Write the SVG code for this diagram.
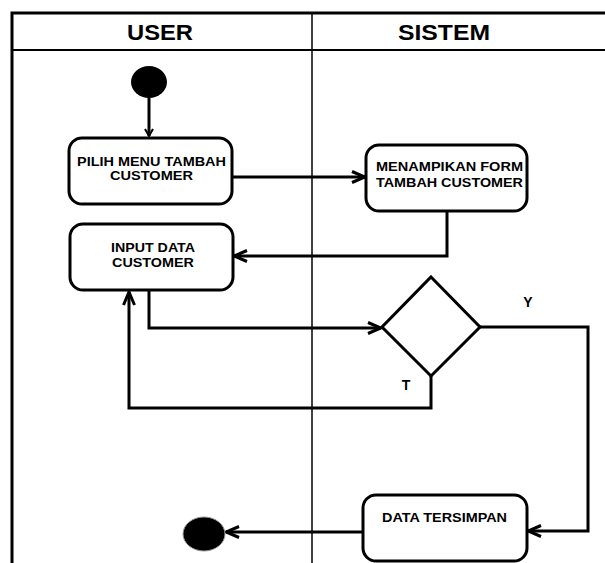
<svg xmlns="http://www.w3.org/2000/svg" width="605" height="563" viewBox="0 0 605 563">
  <defs>
    <style>
      .lane { fill: none; stroke: #000; }
      .act { fill: #fff; stroke: #000; stroke-width: 3; }
      .wire { fill: none; stroke: #000; stroke-width: 3; stroke-linejoin: miter; }
      .hdr { font-family: "Liberation Sans", Arial, sans-serif; font-weight: bold; font-size: 22px; text-anchor: middle; fill: #000; }
      .lbl { font-family: "Liberation Sans", Arial, sans-serif; font-weight: bold; font-size: 12.5px; text-anchor: middle; fill: #000; }
      .guard { font-family: "Liberation Sans", Arial, sans-serif; font-weight: bold; font-size: 14px; text-anchor: middle; fill: #000; }
    </style>
    <marker id="arrow" markerUnits="userSpaceOnUse" markerWidth="18" markerHeight="14" refX="15" refY="7" orient="auto">
      <path d="M2,1.5 L15,7 L2,12.5" fill="none" stroke="#000" stroke-width="3"/>
    </marker>
    <marker id="arrowSmall" markerUnits="userSpaceOnUse" markerWidth="12" markerHeight="10" refX="9" refY="5" orient="auto">
      <path d="M2,1 L9,5 L2,9" fill="none" stroke="#000" stroke-width="2"/>
    </marker>
  </defs>

  <!-- swimlane frame -->
  <g id="swimlanes">
    <rect class="lane" x="12" y="13" width="610" height="560" stroke-width="3"/>
    <line class="lane" x1="12" y1="50" x2="605" y2="50" stroke-width="2"/>
    <line class="lane" x1="312" y1="13" x2="312" y2="563" stroke-width="1.5"/>
    <text class="hdr" x="160" y="40" textLength="66" lengthAdjust="spacingAndGlyphs">USER</text>
    <text class="hdr" x="444" y="40" textLength="92" lengthAdjust="spacingAndGlyphs">SISTEM</text>
  </g>

  <!-- connectors -->
  <g id="connectors">
    <path class="wire" d="M149,98 L149,136" stroke-width="2" marker-end="url(#arrowSmall)"/>
    <path class="wire" d="M232,177 L365,177" marker-end="url(#arrow)"/>
    <path class="wire" d="M447,211 L447,256 L234,256" marker-end="url(#arrow)"/>
    <path class="wire" d="M149,290 L149,328 L381,328" marker-end="url(#arrow)"/>
    <path class="wire" d="M480,327 L588,327 L588,531 L528,531" marker-end="url(#arrow)"/>
    <path class="wire" d="M431,375 L431,408 L129,408 L129,292" marker-end="url(#arrow)"/>
    <path class="wire" d="M363,532 L226,532" marker-end="url(#arrow)"/>
    <text class="guard" x="528" y="307">Y</text>
    <text class="guard" x="406" y="390">T</text>
  </g>

  <!-- nodes -->
  <g id="start">
    <ellipse cx="149" cy="82" rx="18" ry="16" fill="#000"/>
  </g>

  <g id="pilih-menu">
    <rect class="act" x="69" y="138" width="163" height="66" rx="13"/>
    <text class="lbl" x="151.5" y="166" textLength="149" lengthAdjust="spacingAndGlyphs">PILIH MENU TAMBAH</text>
    <text class="lbl" x="151.5" y="180" textLength="83" lengthAdjust="spacingAndGlyphs">CUSTOMER</text>
  </g>

  <g id="menampilkan-form">
    <rect class="act" x="366" y="145" width="161" height="66" rx="13"/>
    <text class="lbl" x="449.5" y="171" textLength="147" lengthAdjust="spacingAndGlyphs">MENAMPIKAN FORM</text>
    <text class="lbl" x="449.5" y="187" textLength="147" lengthAdjust="spacingAndGlyphs">TAMBAH CUSTOMER</text>
  </g>

  <g id="input-data">
    <rect class="act" x="70" y="224" width="163" height="66" rx="13"/>
    <text class="lbl" x="153" y="252" textLength="84" lengthAdjust="spacingAndGlyphs">INPUT DATA</text>
    <text class="lbl" x="153" y="267" textLength="82" lengthAdjust="spacingAndGlyphs">CUSTOMER</text>
  </g>

  <g id="decision">
    <polygon class="act" points="431,277 480,327 431,376 382,327"/>
  </g>

  <g id="data-tersimpan">
    <rect class="act" x="363" y="495" width="164" height="66" rx="13"/>
    <text class="lbl" x="444.5" y="522" textLength="125" lengthAdjust="spacingAndGlyphs">DATA TERSIMPAN</text>
  </g>

  <g id="end">
    <ellipse cx="204" cy="534" rx="21" ry="17" fill="#000" stroke="#999" stroke-width="1"/>
  </g>
</svg>
